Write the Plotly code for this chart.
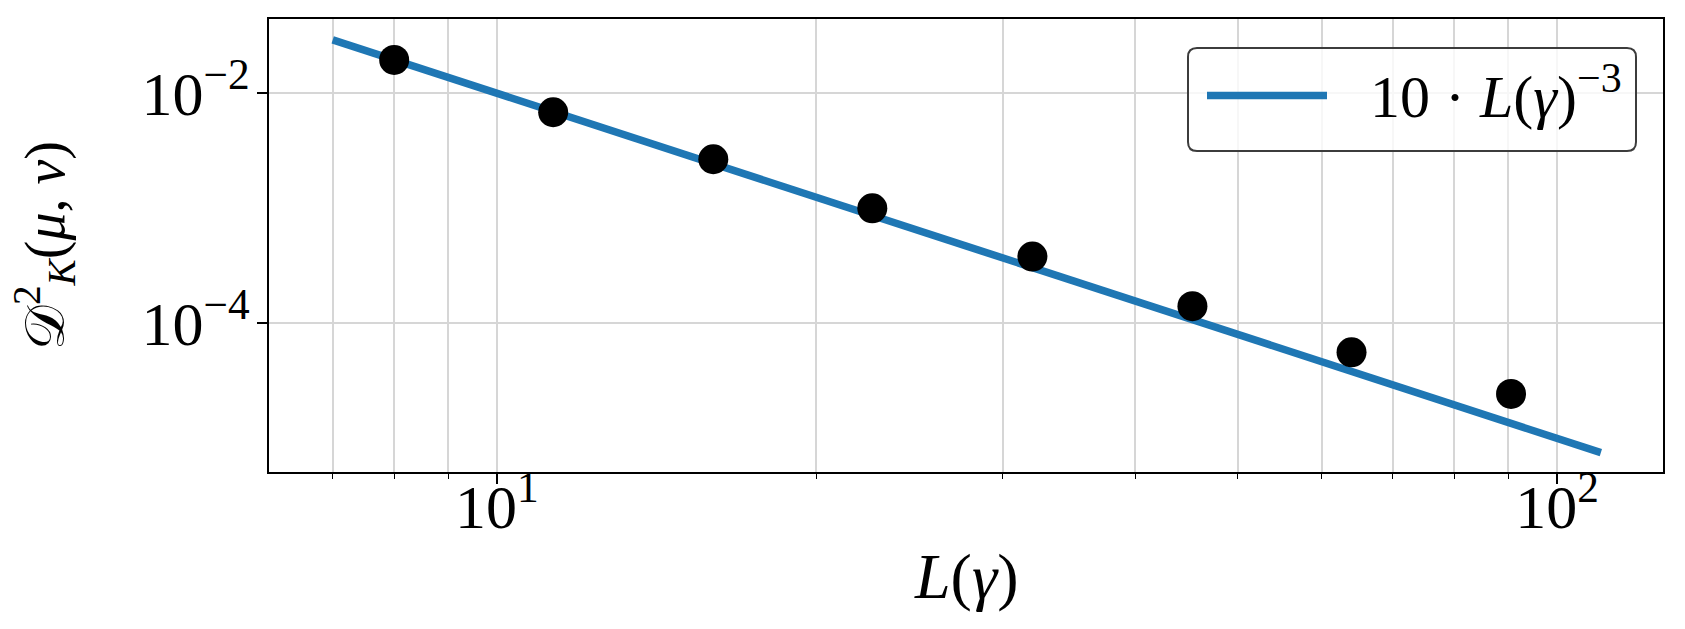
"""
Log-log plot of D_K^2(mu, nu) against L(gamma), with the 10 * L^-3 reference line.
"""
import plotly.graph_objects as go

# measured points
L_vals = [8, 11.3, 16, 22.6, 32, 45.3, 64, 90.5]
D_vals = [0.0195, 0.00684, 0.00267, 0.00100, 3.80e-4, 1.41e-4, 5.59e-5, 2.43e-5]

# reference line 10 * L^-3 (endpoints)
ref_L = [7, 110]
ref_D = [0.02915, 7.513e-6]

x_major = [10, 100]
x_major_text = ["10<sup>1</sup>", "10<sup>2</sup>"]
x_minor = [7, 8, 9, 20, 30, 40, 50, 60, 70, 80, 90]
y_major = [1e-4, 1e-2]
y_major_text = ["10<sup>−4</sup>", "10<sup>−2</sup>"]

BLUE = "#1f77b4"
GRID = "#d6d6d6"
FONT = "Liberation Serif"

# the page body has an 8px margin, so the figure sits at (8, 8)
OFF = 8
W, H = 1685 - OFF, 629 - OFF
X0, X1, Y0, Y1 = 269, 1663, 19, 472  # plot area in window pixels
PW, PH = X1 - X0, Y1 - Y0


def px(x):
    return (x - X0) / PW


def py(y):
    return (Y1 - y) / PH


fig = go.Figure()

fig.add_trace(
    go.Scatter(
        x=ref_L,
        y=ref_D,
        mode="lines",
        line=dict(color=BLUE, width=7.5),
        name="10 · L(γ)^-3",
        showlegend=False,
    )
)
fig.add_trace(
    go.Scatter(
        x=L_vals,
        y=D_vals,
        mode="markers",
        marker=dict(color="black", size=30),
        showlegend=False,
    )
)

axis_common = dict(
    showline=True,
    linecolor="black",
    linewidth=2,
    mirror=True,
    ticks="outside",
    tickcolor="black",
    tickwidth=1.5,
    ticklen=10,
    showgrid=True,
    gridcolor=GRID,
    gridwidth=2,
    zeroline=False,
    tickfont=dict(family=FONT, size=62, color="black"),
)

fig.update_xaxes(
    type="log",
    range=[0.785, 2.1],
    tickmode="array",
    tickvals=x_major,
    ticktext=x_major_text,
    ticklabelstandoff=-30,
    minor=dict(
        tickmode="array",
        tickvals=x_minor,
        ticks="outside",
        ticklen=5,
        tickcolor="black",
        tickwidth=1.2,
        showgrid=True,
        gridcolor=GRID,
        gridwidth=2,
    ),
    **axis_common,
)
fig.update_yaxes(
    type="log",
    range=[-5.293, -1.354],
    tickmode="array",
    tickvals=y_major,
    ticktext=y_major_text,
    ticklabelstandoff=-5,
    **axis_common,
)

# axis titles
fig.add_annotation(
    text="<i>L</i>(<i>γ</i>)",
    xref="paper", yref="paper",
    x=0.5, y=py(576),
    xanchor="center", yanchor="middle",
    showarrow=False,
    font=dict(family=FONT, size=64, color="black"),
)
fig.add_annotation(
    text="𝒟<sup>2</sup><sub><i>K</i></sub>(<i>μ</i>, <i>ν</i>)",
    xref="paper", yref="paper",
    x=px(44), y=py(246),
    xanchor="center", yanchor="middle",
    textangle=-90,
    showarrow=False,
    font=dict(family=FONT, size=56, color="black"),
)

# legend drawn by hand so the sample line and rounded box match
bx0, bx1, by0, by1, r = 1188, 1636, 48, 151, 9
path = (
    f"M {px(bx0 + r)} {py(by0)} L {px(bx1 - r)} {py(by0)} "
    f"Q {px(bx1)} {py(by0)} {px(bx1)} {py(by0 + r)} "
    f"L {px(bx1)} {py(by1 - r)} "
    f"Q {px(bx1)} {py(by1)} {px(bx1 - r)} {py(by1)} "
    f"L {px(bx0 + r)} {py(by1)} "
    f"Q {px(bx0)} {py(by1)} {px(bx0)} {py(by1 - r)} "
    f"L {px(bx0)} {py(by0 + r)} "
    f"Q {px(bx0)} {py(by0)} {px(bx0 + r)} {py(by0)} Z"
)
fig.add_shape(
    type="path",
    path=path,
    xref="paper",
    yref="paper",
    line=dict(color="#3c3c3c", width=2),
    fillcolor="rgba(255,255,255,0.8)",
    layer="above",
)
fig.add_shape(
    type="line",
    xref="paper",
    yref="paper",
    x0=px(1207),
    x1=px(1327),
    y0=py(95.5),
    y1=py(95.5),
    line=dict(color=BLUE, width=7.5),
    layer="above",
)
fig.add_annotation(
    text="10 · <i>L</i>(<i>γ</i>)<sup>−3</sup>",
    xref="paper",
    yref="paper",
    x=px(1368),
    y=py(92),
    xanchor="left",
    yanchor="middle",
    showarrow=False,
    font=dict(family=FONT, size=60, color="black"),
)

fig.update_layout(
    width=W,
    height=H,
    margin=dict(l=X0 - OFF, r=1685 - X1, t=Y0 - OFF, b=629 - Y1, autoexpand=False),
    paper_bgcolor="white",
    plot_bgcolor="white",
    showlegend=False,
)

fig.write_html("out.html")
